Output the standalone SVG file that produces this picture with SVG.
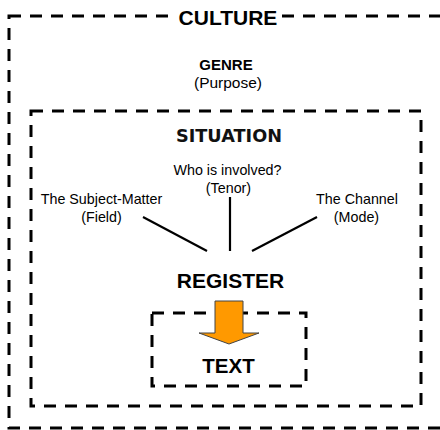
<svg xmlns="http://www.w3.org/2000/svg" width="440" height="430" viewBox="0 0 440 430">
<style>
.box{fill:none;stroke:#000;stroke-width:3;stroke-dasharray:12 9}
.b{font-family:"Liberation Sans",Arial,sans-serif;font-weight:bold;fill:#000;text-anchor:middle}
.n{font-family:"Liberation Sans",Arial,sans-serif;font-size:14.3px;fill:#000;text-anchor:middle}
.s{font-family:"DejaVu Sans",Verdana,sans-serif;font-weight:bold;font-size:17.7px;fill:#111;text-anchor:middle}
.ln{stroke:#000;stroke-width:2.2;fill:none}
</style>
<rect width="440" height="430" fill="#fff"/>
<g id="culture">
<rect class="box" x="9" y="16" width="440" height="412"/>
<rect x="174" y="6" width="108" height="22" fill="#fff"/>
<text class="b" x="228" y="25" font-size="21">CULTURE</text>
</g>
<g id="genre">
<text class="b" x="226" y="70" font-size="15">GENRE</text>
<text class="n" x="228" y="88" font-size="15.5px" style="font-size:15.5px">(Purpose)</text>
</g>
<g id="situation">
<rect class="box" x="31" y="111" width="390" height="295"/>
<text class="s" x="229" y="142">SITUATION</text>
</g>
<g id="field">
<text class="n" x="101.5" y="204">The Subject-Matter</text>
<text class="n" x="101.5" y="222">(Field)</text>
</g>
<g id="tenor">
<text class="n" x="227.5" y="175">Who is involved?</text>
<text class="n" x="228.5" y="193">(Tenor)</text>
</g>
<g id="mode">
<text class="n" x="357" y="204">The Channel</text>
<text class="n" x="356.5" y="222">(Mode)</text>
</g>
<g id="register">
<text class="b" x="230.5" y="288" font-size="21">REGISTER</text>
</g>
<g id="text">
<rect class="box" x="152" y="313" width="154" height="73"/>
<text class="b" x="228.5" y="373" font-size="20.5">TEXT</text>
</g>
<g id="connectors">
<line class="ln" x1="143" y1="217" x2="207" y2="251"/>
<line class="ln" x1="230" y1="197" x2="230" y2="251"/>
<line class="ln" x1="317" y1="217" x2="252" y2="251"/>
<path d="M215,301 H243 V333 H259 L229,344 L199,333 H215 Z" fill="#FF9900" stroke="#444" stroke-width="1"/>
</g>
</svg>
